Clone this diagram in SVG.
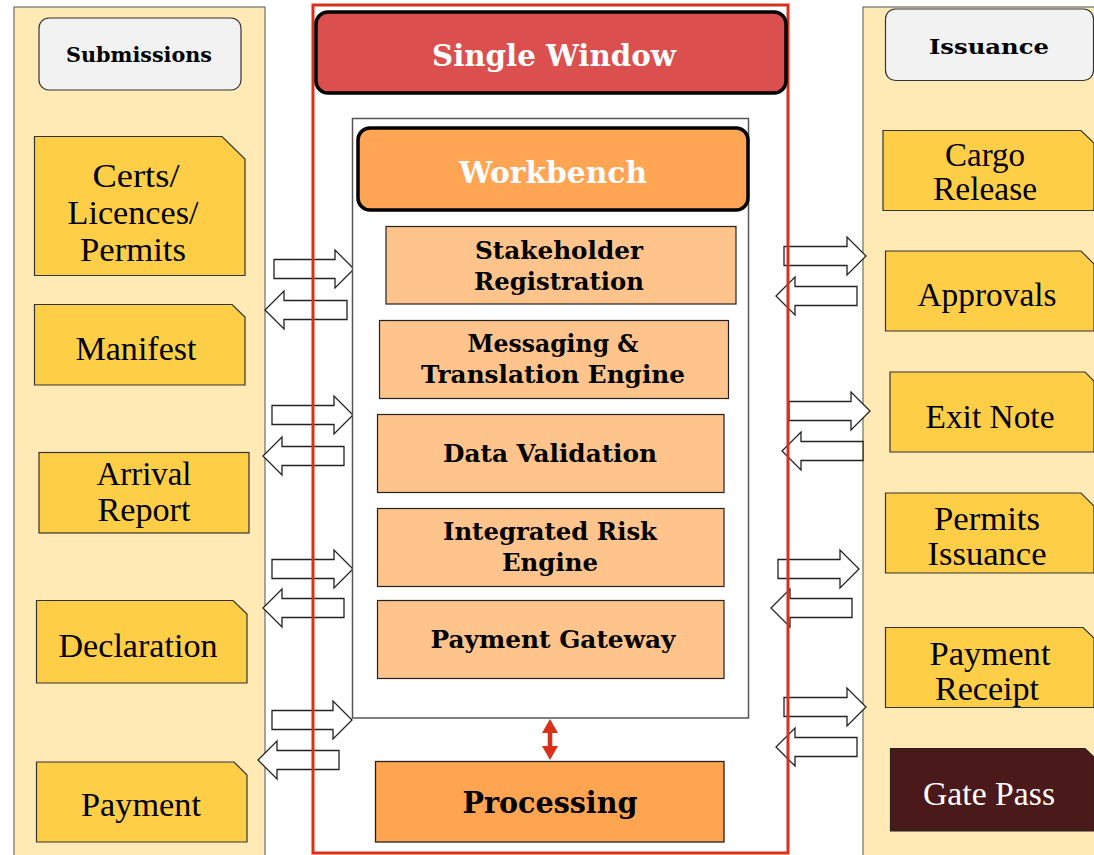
<svg xmlns="http://www.w3.org/2000/svg" width="1094" height="855" viewBox="0 0 1094 855">
<style>
.panel{fill:#ffeab5;stroke:#6e6e6e;stroke-width:1.2}
.hdr{fill:#f2f2f2;stroke:#333;stroke-width:1.2}
.doc{fill:#ffce47;stroke:#333;stroke-width:1.2}
.mod{fill:#ffc48c;stroke:#222;stroke-width:1.2}
.blk{fill:#fff;stroke:#222;stroke-width:1.3}
.t{font-family:"DejaVu Serif","Liberation Serif",serif;text-anchor:middle;fill:#000}
.b{font-weight:bold}
.reg{font-family:"Liberation Serif","DejaVu Serif",serif;font-size:33px}
.mb{font-size:25px;font-weight:bold}
.big{font-size:29px;font-weight:bold;fill:#fff}
</style>
<rect x="0" y="0" width="1094" height="855" fill="#fff"/>
<g id="panel-submissions">
<rect class="panel" x="14" y="7" width="251" height="860"/>
</g>
<g id="panel-issuance">
<rect class="panel" x="863" y="7" width="240" height="860"/>
</g>
<g id="connectors">
<polygon class="blk" points="274,259.5 335,259.5 335,250 354,269 335,288 335,278.5 274,278.5"/>
<polygon class="blk" points="347,300.5 284,300.5 284,291 265,310 284,329 284,319.5 347,319.5"/>
<polygon class="blk" points="272,405.5 334,405.5 334,396 353,415 334,434 334,424.5 272,424.5"/>
<polygon class="blk" points="344,446.5 282,446.5 282,437 263,456 282,475 282,465.5 344,465.5"/>
<polygon class="blk" points="272,559.5 334,559.5 334,550 353,569 334,588 334,578.5 272,578.5"/>
<polygon class="blk" points="344,598.5 282,598.5 282,589 263,608 282,627 282,617.5 344,617.5"/>
<polygon class="blk" points="272,710.5 333,710.5 333,701 352,720 333,739 333,729.5 272,729.5"/>
<polygon class="blk" points="339,750.5 277,750.5 277,741 258,760 277,779 277,769.5 339,769.5"/>
<polygon class="blk" points="784,246.5 847,246.5 847,237 866,256 847,275 847,265.5 784,265.5"/>
<polygon class="blk" points="857,286.5 795,286.5 795,277 776,296 795,315 795,305.5 857,305.5"/>
<polygon class="blk" points="789,401.5 851,401.5 851,392 870,411 851,430 851,420.5 789,420.5"/>
<polygon class="blk" points="863,441.5 801,441.5 801,432 782,451 801,470 801,460.5 863,460.5"/>
<polygon class="blk" points="778,559.5 840,559.5 840,550 859,569 840,588 840,578.5 778,578.5"/>
<polygon class="blk" points="852,598.5 790,598.5 790,589 771,608 790,627 790,617.5 852,617.5"/>
<polygon class="blk" points="784,697.5 847,697.5 847,688 866,707 847,726 847,716.5 784,716.5"/>
<polygon class="blk" points="857,737.5 795,737.5 795,728 776,747 795,766 795,756.5 857,756.5"/>
<polygon fill="#d9301c" points="550,719 558,733 552.3,733 552.3,746 558,746 550,760 542,746 547.7,746 547.7,733 542,733"/>
</g>
<g id="single-window-frame">
<rect x="313" y="5" width="475" height="848" fill="none" stroke="#d9301c" stroke-width="3"/>
</g>
<g id="single-window">
<rect x="316" y="12" width="470" height="81" rx="12" fill="#dc4f4f" stroke="#000" stroke-width="3.5"/>
<text class="t big" x="554" y="66" textLength="244" lengthAdjust="spacingAndGlyphs">Single Window</text>
</g>
<g id="workbench-frame">
<rect x="352.5" y="118.5" width="396" height="599.5" fill="#fff" stroke="#555" stroke-width="1.5"/>
</g>
<g id="workbench">
<rect x="358" y="128" width="390" height="82" rx="12" fill="#ffa553" stroke="#000" stroke-width="3.5"/>
<text class="t big" x="553" y="183" textLength="188" lengthAdjust="spacingAndGlyphs">Workbench</text>
</g>
<g id="stakeholder-registration">
<rect class="mod" x="386" y="226.5" width="350" height="77.5"/>
<text class="t mb" x="559" y="259" textLength="168" lengthAdjust="spacingAndGlyphs">Stakeholder</text>
<text class="t mb" x="559" y="290" textLength="170" lengthAdjust="spacingAndGlyphs">Registration</text>
</g>
<g id="messaging">
<rect class="mod" x="379.5" y="320.5" width="349" height="78"/>
<text class="t mb" x="553" y="352" textLength="171" lengthAdjust="spacingAndGlyphs">Messaging &amp;</text>
<text class="t mb" x="553" y="383" textLength="264" lengthAdjust="spacingAndGlyphs">Translation Engine</text>
</g>
<g id="data-validation">
<rect class="mod" x="377.5" y="414.5" width="346.5" height="78"/>
<text class="t mb" x="550" y="462" textLength="214" lengthAdjust="spacingAndGlyphs">Data Validation</text>
</g>
<g id="integrated-risk-engine">
<rect class="mod" x="377.5" y="508.5" width="346.5" height="78"/>
<text class="t mb" x="550" y="540" textLength="214" lengthAdjust="spacingAndGlyphs">Integrated Risk</text>
<text class="t mb" x="550" y="571" textLength="96" lengthAdjust="spacingAndGlyphs">Engine</text>
</g>
<g id="payment-gateway">
<rect class="mod" x="377.5" y="600.5" width="346.5" height="78"/>
<text class="t mb" x="553" y="648" textLength="245" lengthAdjust="spacingAndGlyphs">Payment Gateway</text>
</g>
<g id="processing">
<rect x="375.5" y="761.5" width="348.5" height="80.5" fill="#ffa552" stroke="#222" stroke-width="1.3"/>
<text class="t b" x="550" y="813" font-size="29" textLength="175" lengthAdjust="spacingAndGlyphs">Processing</text>
</g>
<g id="submissions">
<rect class="hdr" x="39" y="18" width="202" height="72" rx="10"/>
<text class="t b" x="139" y="62" font-size="21" textLength="146" lengthAdjust="spacingAndGlyphs">Submissions</text>
</g>
<g id="certs">
<polygon class="doc" points="34.5,136.5 222,136.5 245,159 245,275.5 34.5,275.5"/>
<text class="t reg" x="136" y="187" textLength="87" lengthAdjust="spacingAndGlyphs">Certs/</text>
<text class="t reg" x="133" y="224" textLength="131" lengthAdjust="spacingAndGlyphs">Licences/</text>
<text class="t reg" x="133" y="261" textLength="106" lengthAdjust="spacingAndGlyphs">Permits</text>
</g>
<g id="manifest">
<polygon class="doc" points="34.5,304.5 232,304.5 245,317 245,385 34.5,385"/>
<text class="t reg" x="136" y="360" textLength="121" lengthAdjust="spacingAndGlyphs">Manifest</text>
</g>
<g id="arrival-report">
<rect class="doc" x="39" y="452.5" width="210" height="80.5"/>
<text class="t reg" x="144" y="485" textLength="95" lengthAdjust="spacingAndGlyphs">Arrival</text>
<text class="t reg" x="144" y="521" textLength="93" lengthAdjust="spacingAndGlyphs">Report</text>
</g>
<g id="declaration">
<polygon class="doc" points="36.5,600.5 233,600.5 247,614 247,683 36.5,683"/>
<text class="t reg" x="138" y="657" textLength="159" lengthAdjust="spacingAndGlyphs">Declaration</text>
</g>
<g id="payment">
<polygon class="doc" points="36.5,762 234,762 247,775 247,842 36.5,842"/>
<text class="t reg" x="141" y="816" textLength="120" lengthAdjust="spacingAndGlyphs">Payment</text>
</g>
<g id="issuance">
<rect class="hdr" x="885.5" y="9" width="208" height="71.5" rx="10"/>
<text class="t b" x="989" y="54" font-size="21" textLength="120" lengthAdjust="spacingAndGlyphs">Issuance</text>
</g>
<g id="cargo-release">
<polygon class="doc" points="883,130.5 1081,130.5 1094,143 1094,210.5 883,210.5"/>
<text class="t reg" x="985" y="166" textLength="80" lengthAdjust="spacingAndGlyphs">Cargo</text>
<text class="t reg" x="985" y="200" textLength="104" lengthAdjust="spacingAndGlyphs">Release</text>
</g>
<g id="approvals">
<polygon class="doc" points="885.5,251 1081,251 1094,264 1094,331 885.5,331"/>
<text class="t reg" x="987" y="306" textLength="139" lengthAdjust="spacingAndGlyphs">Approvals</text>
</g>
<g id="exit-note">
<polygon class="doc" points="890,372 1085,372 1094,381 1094,452 890,452"/>
<text class="t reg" x="990" y="428" textLength="129" lengthAdjust="spacingAndGlyphs">Exit Note</text>
</g>
<g id="permits-issuance">
<polygon class="doc" points="885.5,493 1081,493 1094,506 1094,573 885.5,573"/>
<text class="t reg" x="987" y="530" textLength="106" lengthAdjust="spacingAndGlyphs">Permits</text>
<text class="t reg" x="987" y="565" textLength="119" lengthAdjust="spacingAndGlyphs">Issuance</text>
</g>
<g id="payment-receipt">
<polygon class="doc" points="885.5,627.5 1083,627.5 1094,638 1094,707.5 885.5,707.5"/>
<text class="t reg" x="990" y="665" textLength="121" lengthAdjust="spacingAndGlyphs">Payment</text>
<text class="t reg" x="987" y="700" textLength="104" lengthAdjust="spacingAndGlyphs">Receipt</text>
</g>
<g id="gate-pass">
<polygon points="890.5,748.5 1085,748.5 1094,757 1094,831 890.5,831" fill="#4a1a1a" stroke="#222" stroke-width="1.2"/>
<text class="t reg" x="989" y="805" style="fill:#fff" textLength="132" lengthAdjust="spacingAndGlyphs">Gate Pass</text>
</g>
</svg>
